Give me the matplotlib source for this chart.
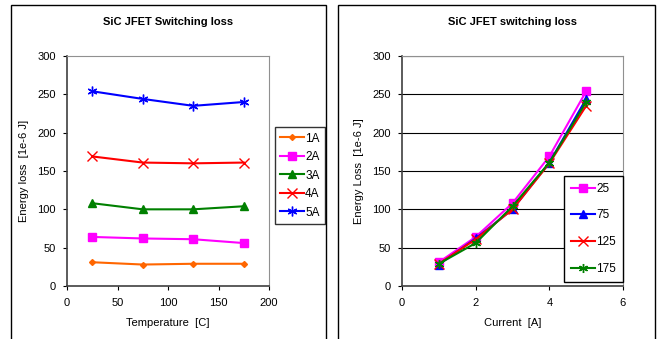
import matplotlib
matplotlib.use("Agg")
import matplotlib.pyplot as plt
from matplotlib.patches import Rectangle

plt.rcParams['font.family'] = ['Liberation Sans', 'DejaVu Sans']

temps = [25, 75, 125, 175]
currents = [1, 2, 3, 4, 5]
loss_1A = [31, 28, 29, 29]
loss_2A = [64, 62, 61, 56]
loss_3A = [108, 100, 100, 104]
loss_4A = [169, 161, 160, 161]
loss_5A = [254, 244, 235, 240]
current_labels = ['1A', '2A', '3A', '4A', '5A']
temp_labels = ['25', '75', '125', '175']

W, H = 657, 339
fig = plt.figure(figsize=(W / 100, H / 100), dpi=100)

def px(x0, y0, x1, y1):
    return [x0 / W, 1 - y1 / H, (x1 - x0) / W, (y1 - y0) / H]

# panel frames
for (x0, x1) in [(11, 326), (338, 655)]:
    fig.patches.append(Rectangle((x0 / W, -0.05), (x1 - x0) / W, 1 - 5 / H + 0.05,
                                 transform=fig.transFigure, fill=False,
                                 edgecolor='black', linewidth=1.0))

def style_axes(ax):
    for s in ['top', 'right']:
        ax.spines[s].set_color('#909090')
        ax.spines[s].set_linewidth(0.8)
    for s in ['left', 'bottom']:
        ax.spines[s].set_color('#404040')
        ax.spines[s].set_linewidth(1.2)
    ax.tick_params(labelsize=8, length=3, direction='out', width=0.8)
    ax.tick_params(axis='x', pad=6)
    ax.tick_params(axis='y', pad=5)
    ax.set_ylim(0, 300)
    ax.set_yticks([0, 50, 100, 150, 200, 250, 300])

# Left chart
ax1 = fig.add_axes(px(67, 56, 269, 286))
series_left = [loss_1A, loss_2A, loss_3A, loss_4A, loss_5A]
styles_left = [
    dict(color='#FF6600', marker='D', markersize=3),
    dict(color='#FF00FF', marker='s', markersize=6),
    dict(color='#008000', marker='^', markersize=6),
    dict(color='#FF0000', marker='x', markersize=6.5, markeredgewidth=1),
    dict(color='#0000FF', marker=(6, 2, 0), markersize=7, markeredgewidth=1),
]
for vals, lab, st in zip(series_left, current_labels, styles_left):
    ax1.plot(temps, vals, label=lab, linewidth=1.5, **st)
style_axes(ax1)
ax1.set_xlim(0, 200)
ax1.set_xticks([0, 50, 100, 150, 200])
ax1.set_title('SiC JFET Switching loss', fontsize=8, fontweight='bold', pad=22.5)
ax1.set_xlabel('Temperature  [C]', fontsize=8, labelpad=7)
ax1.set_ylabel('Energy loss  [1e-6 J]', fontsize=8, labelpad=6)
leg1 = ax1.legend(loc='upper left', bbox_to_anchor=(1.03, 0.69), fontsize=8.5,
                  frameon=True, fancybox=False, edgecolor='black',
                  handlelength=2.0, borderpad=0.45, labelspacing=0.55,
                  handletextpad=0.1, borderaxespad=0)
leg1.get_frame().set_linewidth(1.0)

# Right chart
ax2 = fig.add_axes(px(402, 56, 623, 286))
series_right = [[s[i] for s in series_left] for i in range(len(temps))]
styles_right = [
    dict(color='#FF00FF', marker='s', markersize=6),
    dict(color='#0000FF', marker='^', markersize=6),
    dict(color='#FF0000', marker='x', markersize=6.5, markeredgewidth=1),
    dict(color='#008000', marker=(6, 2, 0), markersize=6.5, markeredgewidth=1),
]
for vals, lab, st in zip(series_right, temp_labels, styles_right):
    ax2.plot(currents, vals, label=lab, linewidth=1.5, **st)
style_axes(ax2)
ax2.set_xlim(0, 6)
ax2.set_xticks([0, 2, 4, 6])
ax2.yaxis.grid(True, color='black', linewidth=0.8)
ax2.set_axisbelow(True)
ax2.set_title('SiC JFET switching loss', fontsize=8, fontweight='bold', pad=22.5)
ax2.set_xlabel('Current  [A]', fontsize=8, labelpad=7)
ax2.set_ylabel('Energy Loss  [1e-6 J]', fontsize=8, labelpad=6)
leg2 = ax2.legend(loc='lower right', bbox_to_anchor=(1.0, 0.017), fontsize=8.5,
                  frameon=True, fancybox=False, edgecolor='black', framealpha=1,
                  handlelength=2.0, borderpad=0.6, labelspacing=1.25,
                  handletextpad=0.1, borderaxespad=0)
leg2.get_frame().set_linewidth(1.0)

fig.savefig('out.png', dpi=100)
